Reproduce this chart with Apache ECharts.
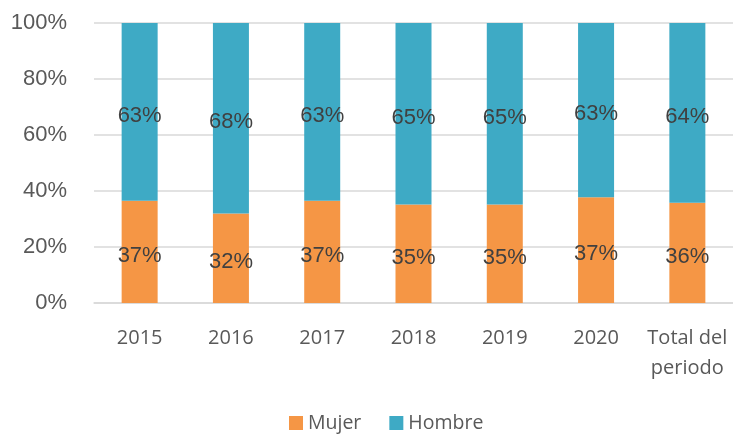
<!DOCTYPE html>
<html>
<head>
<meta charset="utf-8">
<style>
  html, body { margin: 0; padding: 0; background: #fff; }
  #chart { width: 733px; height: 434px; }
</style>
<script src="https://cdn.jsdelivr.net/npm/echarts@6/dist/echarts.min.js"></script>
</head>
<body>
<div id="chart"></div>
<script>
// categorias y valores (porcentaje)
const categories = ['2015', '2016', '2017', '2018', '2019', '2020', 'Total del\nperiodo'];
const mujer = [36.5, 32, 36.5, 35.2, 35.2, 37.8, 35.8];
const hombre = [63.5, 68, 63.5, 64.8, 64.8, 62.2, 64.2];
const mujerLabels = ['37%', '32%', '37%', '35%', '35%', '37%', '36%'];
const hombreLabels = ['63%', '68%', '63%', '65%', '65%', '63%', '64%'];
const yTicks = [0, 20, 40, 60, 80, 100];

const chart = echarts.init(document.getElementById('chart'));

const labelStyle = {
    show: true,
    position: 'inside',
    offset: [0, 4],
    fontFamily: 'Liberation Sans',
    fontSize: 22,
    color: '#404040',
};

let option = {
    animation: false,
    grid: {
        left: 94,
        right: 0,
        top: 23,
        bottom: 131,
    },
    legend: {
        bottom: -4,
        left: 284,
        itemWidth: 14,
        itemHeight: 14,
        itemGap: 28,
        icon: 'rect',
        textStyle: {
            fontFamily: 'Open Sans',
            fontSize: 19.5,
            color: '#595959',
        },
        data: ['Mujer', 'Hombre'],
    },
    xAxis: {
        type: 'category',
        data: categories,
        axisLine: { lineStyle: { color: '#d9d9d9', width: 1.5 } },
        axisTick: { show: false },
        axisLabel: {
            margin: 20,
            fontFamily: 'Open Sans',
            fontSize: 20,
            lineHeight: 30,
            color: '#595959',
            interval: 0,
        },
    },
    yAxis: {
        type: 'value',
        min: yTicks[0],
        max: yTicks[yTicks.length - 1],
        interval: 20,
        axisLine: { show: false },
        axisTick: { show: false },
        axisLabel: {
            margin: 27,
            fontFamily: 'Liberation Sans',
            fontSize: 22,
            color: '#595959',
            formatter: '{value}%',
        },
        splitLine: { lineStyle: { color: '#d9d9d9', width: 1.5 } },
    },
    series: [
        {
            name: 'Mujer',
            type: 'bar',
            stack: 'total',
            barWidth: 36,
            itemStyle: { color: '#f59645' },
            label: Object.assign({}, labelStyle, {
                formatter: (p) => mujerLabels[p.dataIndex],
            }),
            data: mujer,
        },
        {
            name: 'Hombre',
            type: 'bar',
            stack: 'total',
            barWidth: 36,
            itemStyle: { color: '#3eaac5' },
            label: Object.assign({}, labelStyle, {
                formatter: (p) => hombreLabels[p.dataIndex],
            }),
            data: hombre,
        },
    ],
};

chart.setOption(option);
</script>
</body>
</html>
